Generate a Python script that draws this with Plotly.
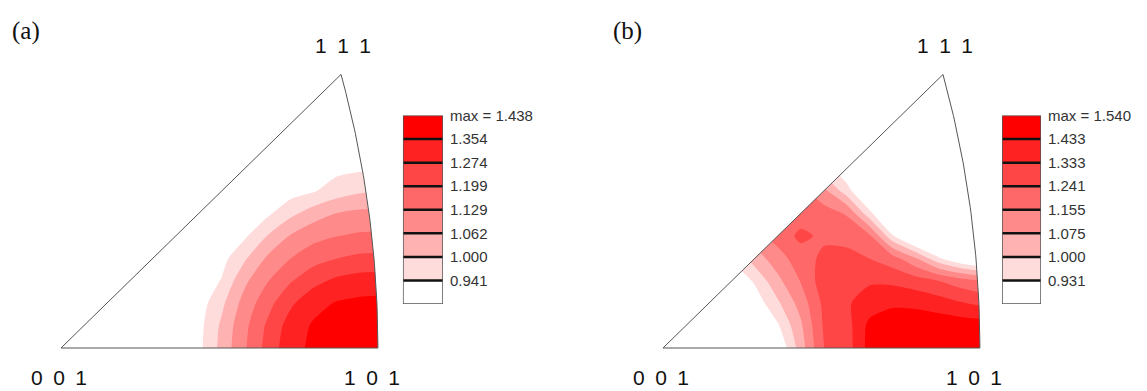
import numpy as np
import plotly.graph_objects as go

# Stereographic sampling grid (same nodes along x and y), 001 at the origin
grid = [0.00, 0.03, 0.06, 0.09, 0.12, 0.15, 0.18, 0.21, 0.24, 0.27, 0.30, 0.33, 0.36, 0.39, 0.42]

# Pole density, row j is y = grid[j] and lists x = grid[j] ... grid[-1] (the x >= y half)
density_a = [
    [0.780, 0.789, 0.805, 0.822, 0.846, 0.876, 0.924, 1.019, 1.120, 1.225, 1.324, 1.372, 1.400, 1.425, 1.438],
    [0.789, 0.804, 0.821, 0.844, 0.874, 0.921, 1.011, 1.111, 1.211, 1.307, 1.364, 1.388, 1.407, 1.412],
    [0.802, 0.819, 0.840, 0.869, 0.911, 0.986, 1.087, 1.173, 1.261, 1.326, 1.360, 1.372, 1.375],
    [0.815, 0.831, 0.861, 0.896, 0.945, 1.048, 1.125, 1.192, 1.250, 1.289, 1.307, 1.311],
    [0.826, 0.848, 0.877, 0.920, 0.991, 1.072, 1.128, 1.170, 1.198, 1.214, 1.218],
    [0.834, 0.862, 0.890, 0.931, 1.002, 1.066, 1.107, 1.127, 1.139, 1.141],
    [0.845, 0.867, 0.896, 0.930, 0.984, 1.031, 1.063, 1.077, 1.081],
    [0.847, 0.864, 0.890, 0.916, 0.936, 0.969, 0.991, 0.996],
    [0.843, 0.860, 0.874, 0.891, 0.925, 0.932, 0.934],
    [0.834, 0.847, 0.857, 0.865, 0.869, 0.870],
    [0.826, 0.830, 0.835, 0.839, 0.840],
    [0.813, 0.816, 0.818, 0.818],
    [0.798, 0.801, 0.800],
    [0.787, 0.788],
    [0.780],
]

density_b = [
    [0.750, 0.760, 0.780, 0.800, 0.830, 0.862, 1.034, 1.240, 1.283, 1.470, 1.490, 1.510, 1.525, 1.535, 1.540],
    [0.760, 0.775, 0.800, 0.840, 0.922, 1.061, 1.250, 1.290, 1.460, 1.480, 1.500, 1.500, 1.490, 1.480],
    [0.780, 0.810, 0.888, 0.987, 1.106, 1.260, 1.320, 1.380, 1.420, 1.410, 1.380, 1.340, 1.310],
    [0.870, 0.941, 1.055, 1.160, 1.288, 1.310, 1.320, 1.310, 1.280, 1.240, 1.190, 1.150],
    [1.035, 1.120, 1.200, 1.260, 1.270, 1.240, 1.190, 1.080, 0.940, 0.850, 0.800],
    [1.190, 1.260, 1.225, 1.210, 1.170, 0.940, 0.800, 0.790, 0.780, 0.770],
    [1.200, 1.190, 1.148, 0.950, 0.810, 0.770, 0.760, 0.760, 0.760],
    [1.100, 0.960, 0.830, 0.780, 0.760, 0.760, 0.755, 0.755],
    [0.880, 0.800, 0.770, 0.760, 0.755, 0.750, 0.750],
    [0.800, 0.770, 0.760, 0.755, 0.750, 0.750],
    [0.770, 0.760, 0.755, 0.750, 0.750],
    [0.760, 0.755, 0.750, 0.750],
    [0.755, 0.750, 0.750],
    [0.750, 0.750],
    [0.750],
]

# Contour levels and maxima shown in the keys
levels_a = [0.941, 1.000, 1.062, 1.129, 1.199, 1.274, 1.354]
max_a = 1.438
levels_b = [0.931, 1.000, 1.075, 1.155, 1.241, 1.333, 1.433]
max_b = 1.540

# Fill colours from the lowest band (below the first level) to the highest
band_colors = ["#ffffff", "#ffdcdc", "#ffb2b2", "#ff8a8a", "#ff6868", "#ff4646", "#ff2222", "#ff0000"]

vertex_labels = ["0\u20020\u20021", "1\u20020\u20021", "1\u20021\u20021"]
panel_tags = ["(a)", "(b)"]


def full_grid(rows):
    """Square grid from the x >= y half, mirrored across the 001-111 edge."""
    n = len(grid)
    z = np.empty((n, n))
    for j, row in enumerate(rows):
        z[j, j:] = row
        z[j:, j] = row
    return z


# Standard triangle of the stereographic projection
R2 = np.sqrt(2.0)
x101 = R2 - 1.0
t111 = 1.0 / (1.0 + np.sqrt(3.0))
theta = np.linspace(0.0, np.arctan2(t111, 1.0 + t111), 60)
arc_x = -1.0 + R2 * np.cos(theta)
arc_y = R2 * np.sin(theta)

fig = go.Figure()

panels = [
    (density_a, levels_a, max_a, "x", "y", "x3", "y3"),
    (density_b, levels_b, max_b, "x2", "y2", "x4", "y4"),
]

for dens, levels, vmax, xa, ya, xl, yl in panels:
    z = full_grid(dens)
    # each layer shades the region where the density exceeds its level
    for lvl, col in zip(levels, band_colors[1:]):
        fig.add_trace(go.Contour(
            x=grid, y=grid, z=z, xaxis=xa, yaxis=ya,
            contours=dict(type="constraint", operation="<", value=lvl),
            fillcolor=col, line=dict(width=0, smoothing=0.7),
            showscale=False, hoverinfo="skip", showlegend=False,
        ))
    # white cover outside the triangle
    covers = [
        ([-0.03, 0.47, -0.03], [-0.03, 0.47, 0.47]),
        ([-0.03, 0.47, 0.47, -0.03], [-0.04, -0.04, 0.0, 0.0]),
        (list(arc_x) + [t111, 0.47, 0.47, x101], list(arc_y) + [0.47, 0.47, -0.04, -0.04]),
    ]
    for cx, cy in covers:
        fig.add_trace(go.Scatter(
            x=cx, y=cy, xaxis=xa, yaxis=ya, mode="lines", fill="toself",
            fillcolor="white", line=dict(width=0, color="white"),
            hoverinfo="skip", showlegend=False,
        ))
    # triangle outline
    fig.add_trace(go.Scatter(
        x=[0.0] + list(arc_x) + [0.0], y=[0.0] + list(arc_y) + [0.0],
        xaxis=xa, yaxis=ya, mode="lines", line=dict(color="#555555", width=1),
        hoverinfo="skip", showlegend=False,
    ))

    # colour key: one block per band, labelled at the band boundaries
    nb = len(band_colors)
    fig.add_trace(go.Bar(
        x=[0] * nb, y=[1] * nb, base=list(range(nb)), width=1,
        marker=dict(color=band_colors, line=dict(width=0)),
        xaxis=xl, yaxis=yl, hoverinfo="skip", showlegend=False,
    ))
    sep_x, sep_y = [], []
    for k in range(1, nb):
        sep_x += [-0.5, 0.5, None]
        sep_y += [k, k, None]
    fig.add_trace(go.Scatter(
        x=sep_x, y=sep_y, xaxis=xl, yaxis=yl, mode="lines",
        line=dict(color="#111111", width=2.5), hoverinfo="skip", showlegend=False,
    ))
    fig.add_trace(go.Scatter(
        x=[-0.5, 0.5, 0.5, -0.5, -0.5], y=[0, 0, nb, nb, 0], xaxis=xl, yaxis=yl,
        mode="lines", line=dict(color="#555555", width=1.5),
        hoverinfo="skip", showlegend=False,
    ))

sans = "Liberation Sans, Arial, sans-serif"

tri_axis = dict(range=[-0.02, 0.44], visible=False, fixedrange=True)
tri_yaxis = dict(range=[-0.02, 0.43], visible=False, fixedrange=True)
key_x = dict(range=[-0.5, 0.5], visible=False, fixedrange=True)


def key_y(levels, vmax, anchor):
    return dict(
        domain=[0.2276, 0.7212], range=[0, len(band_colors)], anchor=anchor, side="right",
        tickmode="array", tickvals=list(range(1, len(band_colors) + 1)),
        ticktext=[f"{v:.3f}" for v in levels] + [f"max = {vmax:.3f}"],
        showgrid=False, zeroline=False, showline=False, ticks="",
        ticklabelstandoff=6, tickfont=dict(family=sans, size=15, color="#333333"),
        fixedrange=True,
    )


fig.update_layout(
    width=1147, height=391, autosize=False,
    margin=dict(l=0, r=0, t=0, b=0),
    paper_bgcolor="white", plot_bgcolor="white",
    xaxis=dict(domain=[0.03984, 0.34665], anchor="y", **tri_axis),
    yaxis=dict(domain=[0.0734, 0.95384], anchor="x", **tri_yaxis),
    xaxis2=dict(domain=[0.56469, 0.87149], anchor="y2", **tri_axis),
    yaxis2=dict(domain=[0.0734, 0.95384], anchor="x2", **tri_yaxis),
    xaxis3=dict(domain=[0.3513, 0.3862], anchor="y3", **key_x),
    yaxis3=key_y(levels_a, max_a, "x3"),
    xaxis4=dict(domain=[0.8736, 0.9076], anchor="y4", **key_x),
    yaxis4=key_y(levels_b, max_b, "x4"),
    showlegend=False,
)

# Vertex labels and panel tags
vertex_pos = [(0.0, 0.0, -2, -29), (x101, 0.0, -6, -29), (t111, t111, 2, 29)]
for xa, ya in [("x", "y"), ("x2", "y2")]:
    for (vx, vy, dx, dy), txt in zip(vertex_pos, vertex_labels):
        fig.add_annotation(
            x=vx, y=vy, xref=xa, yref=ya, text=txt, showarrow=False,
            xanchor="center", yanchor="middle", xshift=dx, yshift=dy,
            font=dict(family=sans, size=21, color="#111111"),
        )

for px, tag in zip([26, 627], panel_tags):
    fig.add_annotation(
        x=px / 1147, y=1 - 23 / 391, xref="paper", yref="paper", text=tag,
        showarrow=False, xanchor="center", yanchor="middle",
        font=dict(family="Liberation Serif, Times New Roman, serif", size=25, color="#111111"),
    )

fig.write_html("out.html")
